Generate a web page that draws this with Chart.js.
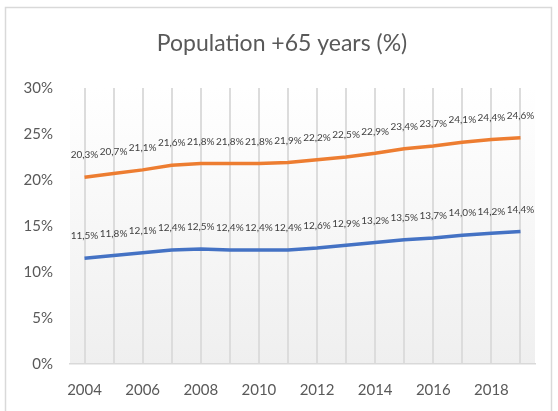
<!DOCTYPE html>
<html>
<head>
<meta charset="utf-8">
<script src="https://cdn.jsdelivr.net/npm/chart.js@4"></script>
<style>
  body { margin: 0; background: #fff; }
  #wrap { width: 558px; height: 411px; }
</style>
</head>
<body>
<div id="wrap"><canvas id="myChart"></canvas></div>
<script>
const years = ['2004', '2005', '2006', '2007', '2008', '2009', '2010', '2011',
    '2012', '2013', '2014', '2015', '2016', '2017', '2018', '2019'];
const seriesTop = [20.3, 20.7, 21.1, 21.6, 21.8, 21.8, 21.8, 21.9,
    22.2, 22.5, 22.9, 23.4, 23.7, 24.1, 24.4, 24.6];
const seriesLow = [11.5, 11.8, 12.1, 12.4, 12.5, 12.4, 12.4, 12.4,
    12.6, 12.9, 13.2, 13.5, 13.7, 14.0, 14.2, 14.4];
const yTicks = [0, 5, 10, 15, 20, 25, 30];
const chartTitle = 'Population +65 years (%)';

const textColor = '#595959';
const fontFamily = 'Lato, "Liberation Sans", sans-serif';

// frame, title and shaded plot area behind everything
const backdrop = {
    id: 'backdrop',
    beforeDraw(chart) {
        const { ctx, chartArea: a } = chart;
        ctx.save();
        const g = ctx.createLinearGradient(0, a.top, 0, a.bottom);
        g.addColorStop(0, '#ffffff');
        g.addColorStop(1, '#efefef');
        ctx.fillStyle = g;
        ctx.fillRect(a.left, a.top, a.right - a.left, a.bottom - a.top);
        ctx.strokeStyle = '#d9d9d9';
        ctx.lineWidth = 1.5;
        ctx.strokeRect(5.5, 7.5, 546, 420);
        // title centred on the whole frame, not just the padded box
        ctx.font = '23px ' + fontFamily;
        ctx.fillStyle = textColor;
        ctx.textAlign = 'center';
        ctx.textBaseline = 'middle';
        ctx.fillText(chartTitle, 282, 44);
        ctx.restore();
    }
};

// value labels over each point, decimal comma
const pointLabels = {
    id: 'pointLabels',
    afterDatasetsDraw(chart) {
        const { ctx } = chart;
        ctx.save();
        ctx.font = '10px ' + fontFamily;
        ctx.fillStyle = '#404040';
        ctx.textAlign = 'center';
        ctx.textBaseline = 'middle';
        chart.data.datasets.forEach((ds, i) => {
            chart.getDatasetMeta(i).data.forEach((pt, j) => {
                const txt = ds.data[j].toFixed(1).replace('.', ',') + '%';
                ctx.fillText(txt, pt.x, pt.y - 22);
            });
        });
        ctx.restore();
    }
};

const ctx = document.getElementById('myChart').getContext('2d');
const myChart = new Chart(ctx, {
    type: 'line',
    data: {
        labels: years,
        datasets: [{
            label: '+65 total',
            data: seriesTop,
            borderColor: '#ED7D31',
            borderWidth: 3.5,
            pointRadius: 0,
            tension: 0
        }, {
            label: '+65 part',
            data: seriesLow,
            borderColor: '#4472C4',
            borderWidth: 3.5,
            pointRadius: 0,
            tension: 0
        }]
    },
    options: {
        responsive: true,
        maintainAspectRatio: false,
        animation: false,
        layout: { padding: { top: 88, right: 23, bottom: 0, left: 0 } },
        plugins: {
            legend: { display: false },
            tooltip: { enabled: false },
            title: { display: false }
        },
        scales: {
            x: {
                offset: true,
                grid: { offset: false, color: '#dcdcdc', lineWidth: 2, drawTicks: false },
                border: { color: '#d9d9d9', width: 1.5 },
                ticks: {
                    autoSkip: false,
                    maxRotation: 0,
                    padding: 17,
                    color: textColor,
                    font: { family: fontFamily, size: 15 },
                    callback: function(value, index) {
                        return index % 2 === 0 ? years[index] : '';
                    }
                },
                afterFit(scale) { scale.height = 47; }
            },
            y: {
                min: 0,
                max: 30,
                grid: { display: false, drawTicks: false },
                border: { display: false },
                afterBuildTicks(scale) {
                    scale.ticks = yTicks.map(v => ({ value: v }));
                },
                ticks: {
                    padding: 17,
                    color: textColor,
                    font: { family: fontFamily, size: 15 },
                    callback: function(value) { return value + '%'; }
                },
                afterFit(scale) { scale.width = 70; }
            }
        }
    },
    plugins: [backdrop, pointLabels]
});
</script>
</body>
</html>
